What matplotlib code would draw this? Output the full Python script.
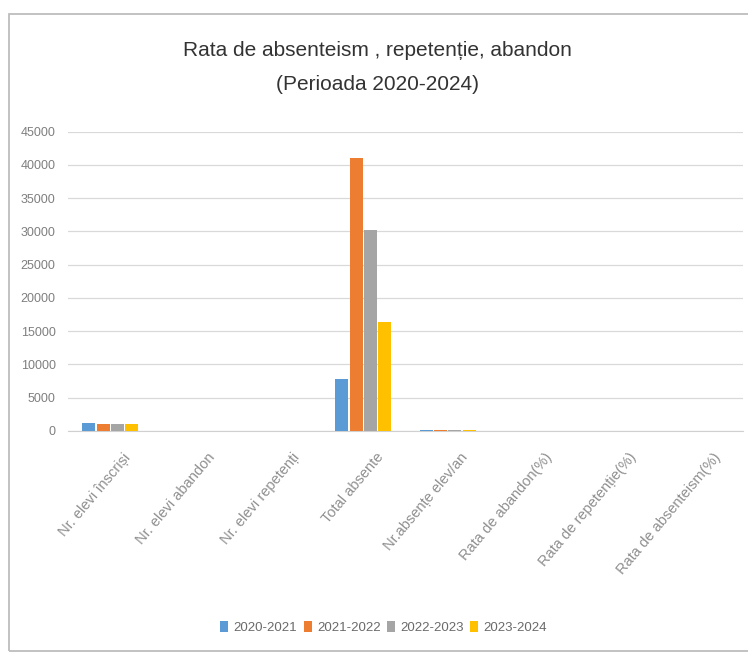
import numpy as np
import matplotlib
matplotlib.use('Agg')
import matplotlib.pyplot as plt
import matplotlib.transforms as mtransforms
from matplotlib.patches import Rectangle

plt.rcParams['font.family'] = ['Liberation Sans', 'DejaVu Sans']

# ---- data ----
categories = ['Nr. elevi înscriși', 'Nr. elevi abandon', 'Nr. elevi repetenți',
              'Total absente', 'Nr.absențe elev/an', 'Rata de abandon(%)',
              'Rata de repetenție(%)', 'Rata de absenteism(%)']
years = ['2020-2021', '2021-2022', '2022-2023', '2023-2024']
v_2020_2021 = [1150, 5, 10, 7800, 190, 0.4, 0.9, 6.8]
v_2021_2022 = [1120, 3, 8, 41060, 200, 0.3, 0.7, 36.7]
v_2022_2023 = [1100, 2, 6, 30200, 195, 0.2, 0.5, 27.5]
v_2023_2024 = [1080, 1, 5, 16350, 185, 0.1, 0.5, 15.1]
series = [v_2020_2021, v_2021_2022, v_2022_2023, v_2023_2024]
colors = ['#5B9BD5', '#ED7D31', '#A5A5A5', '#FFC000']

fig = plt.figure(figsize=(7.48, 6.52), dpi=100)
ax = fig.add_axes([0.091, 0.339, 0.902, 0.459])

x = np.arange(len(categories))
bw = 0.155
step = 0.17
for k, (vals, col, lab) in enumerate(zip(series, colors, years)):
    ax.bar(x + (k - 1.5) * step, vals, width=bw, color=col, label=lab, zorder=3)

ax.set_xlim(-0.5, len(categories) - 0.5)
ax.set_ylim(0, 45000)
ax.set_yticks(np.arange(0, 45001, 5000))
ax.yaxis.grid(True, color='#d9d9d9', lw=0.9, zorder=0)
for s in ['top', 'right', 'left']:
    ax.spines[s].set_visible(False)
ax.spines['bottom'].set_color('#d0d0d0')
ax.tick_params(axis='y', length=0, pad=9, labelsize=9, labelcolor='#7f7f7f')
ax.tick_params(axis='x', length=0, pad=14, labelsize=10.5, labelcolor='#8f8f8f')

ax.set_xticks(x)
ax.set_xticklabels(categories, rotation=50, ha='right', rotation_mode='anchor')
shift = mtransforms.ScaledTranslation(9 / 72, 0, fig.dpi_scale_trans)
for t in ax.get_xticklabels():
    t.set_transform(t.get_transform() + shift)

fig.text(0.505, 0.923, 'Rata de absenteism , repetenție, abandon',
         ha='center', va='center', fontsize=15, color='#333333')
fig.text(0.505, 0.870, '(Perioada 2020-2024)',
         ha='center', va='center', fontsize=15, color='#333333')

fig.legend(loc='center', bbox_to_anchor=(0.513, 0.037), ncol=4, frameon=False,
           fontsize=9.5, handlelength=0.6, handleheight=0.9, handletextpad=0.4,
           columnspacing=0.5, labelcolor='#6a6a6a')

# chart border
fig.patches.append(Rectangle((9 / 748, 1.5 / 652), 1.2, 1 - 15.5 / 652,
                             transform=fig.transFigure, fill=False,
                             edgecolor='#bdbdbd', lw=1.3))

fig.savefig('out.png', dpi=100)
